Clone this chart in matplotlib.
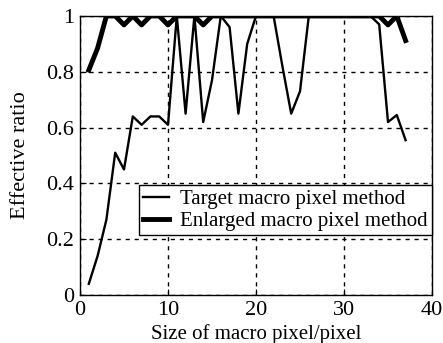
import matplotlib
matplotlib.use("Agg")
import matplotlib.pyplot as plt

x = list(range(1, 38))
target = [0.04, 0.14, 0.27, 0.51, 0.45, 0.64, 0.61, 0.64, 0.64, 0.61,
          1.0, 0.65, 1.0, 0.62, 0.77, 1.0, 0.96, 0.65, 0.90, 1.0,
          1.0, 1.0, 0.82, 0.65, 0.73, 1.0, 1.0, 1.0, 1.0, 1.0,
          1.0, 1.0, 1.0, 0.97, 0.62, 0.645, 0.555]
enlarged = [0.806, 0.885, 1.0, 1.0, 0.968, 1.0, 0.968, 1.0, 1.0, 0.968,
            1.0, 1.0, 1.0, 0.968, 1.0, 1.0, 1.0, 1.0, 1.0, 1.0,
            1.0, 1.0, 1.0, 1.0, 1.0, 1.0, 1.0, 1.0, 1.0, 1.0,
            1.0, 1.0, 1.0, 1.0, 0.968, 1.0, 0.912]
xticks = [0, 10, 20, 30, 40]
yticks = [0, 0.2, 0.4, 0.6, 0.8, 1.0]
yticklabels = ["0", "0.2", "0.4", "0.6", "0.8", "1"]

plt.rcParams['font.family'] = ['Liberation Serif', 'DejaVu Serif']
fig = plt.figure(figsize=(4.43, 3.43), dpi=100)
ax = fig.add_axes([80/443, 1-295/343, (432-80)/443, (295-16)/343])
ax.plot(x, target, color='black', lw=1.7, label='Target macro pixel method')
ax.plot(x, enlarged, color='black', lw=3.5, label='Enlarged macro pixel method')
ax.set_xlim(0, 40)
ax.set_ylim(0, 1)
ax.set_xticks(xticks)
ax.set_yticks(yticks)
ax.set_yticklabels(yticklabels)
ax.tick_params(direction='in', labelsize=16, length=4, pad=4)
ax.grid(True, color='black', linestyle=(0, (3, 3.5)), linewidth=1.0)
for s in ax.spines.values():
    s.set_linewidth(1.0)
ax.set_xlabel('Size of macro pixel/pixel', fontsize=15)
ax.set_ylabel('Effective ratio', fontsize=16)
ax.xaxis.set_label_coords(0.5, -0.105)
ax.yaxis.set_label_coords(-0.142, 0.5)
leg = ax.legend(loc='lower right', bbox_to_anchor=(1.0, 0.215), fontsize=15,
                frameon=True, fancybox=False, framealpha=1, edgecolor='black',
                borderpad=0.2, labelspacing=0.1, handlelength=1.25,
                handletextpad=0.55, borderaxespad=0.0)
leg.get_frame().set_linewidth(1.0)
fig.savefig('out.png', dpi=100)
